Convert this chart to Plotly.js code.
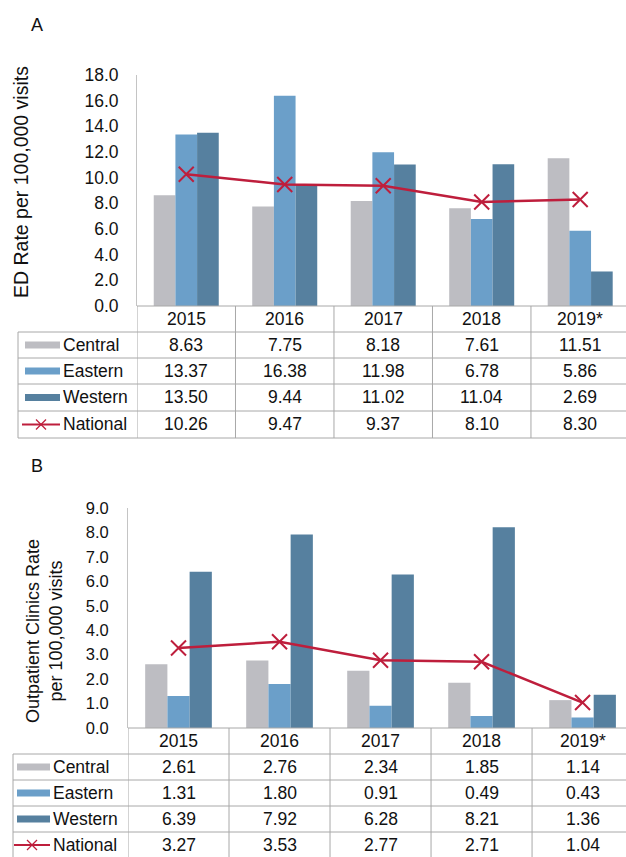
<!DOCTYPE html>
<html>
<head>
<meta charset="utf-8">
<script src="https://cdn.plot.ly/plotly-3.0.1.min.js"></script>
<style>html,body{margin:0;padding:0;background:#fff;}#chart{width:626px;height:857px;}</style>
</head>
<body>
<div id="chart"></div>
<script>
// ---- data ----
const years = ['2015', '2016', '2017', '2018', '2019*'];
const seriesNames = ['Central', 'Eastern', 'Western', 'National'];
const edCentral  = [8.63, 7.75, 8.18, 7.61, 11.51];
const edEastern  = [13.37, 16.38, 11.98, 6.78, 5.86];
const edWestern  = [13.50, 9.44, 11.02, 11.04, 2.69];
const edNational = [10.26, 9.47, 9.37, 8.10, 8.30];
const opCentral  = [2.61, 2.76, 2.34, 1.85, 1.14];
const opEastern  = [1.31, 1.80, 0.91, 0.49, 0.43];
const opWestern  = [6.39, 7.92, 6.28, 8.21, 1.36];
const opNational = [3.27, 3.53, 2.77, 2.71, 1.04];

// ---- styles ----
const W = 626, H = 857;
const px = x => x / W;
const py = y => 1 - y / H;
const cCentral = '#bdbdc2', cEastern = '#6b9fc9', cWestern = '#56809f', cNational = '#be1e3c';
const gridC = '#a8a8a8';
const FONT = 'Liberation Sans, Arial, sans-serif';
const txtC = '#111111';

const idx = years.map((_, i) => i);

function barTrace(vals, color, xa, ya, name) {
  return {type: 'bar', x: idx, y: vals, name: name, marker: {color: color}, xaxis: xa, yaxis: ya, hoverinfo: 'y'};
}
function lineTrace(vals, xa, ya) {
  return {type: 'scatter', mode: 'lines+markers', x: idx, y: vals, name: 'National', xaxis: xa, yaxis: ya,
    line: {color: cNational, width: 2.5},
    marker: {symbol: 'x-thin', size: 15, line: {color: cNational, width: 2}, color: cNational},
    cliponaxis: false};
}

const data = [
  barTrace(edCentral, cCentral, 'x', 'y', 'Central'),
  barTrace(edEastern, cEastern, 'x', 'y', 'Eastern'),
  barTrace(edWestern, cWestern, 'x', 'y', 'Western'),
  lineTrace(edNational, 'x', 'y'),
  barTrace(opCentral, cCentral, 'x2', 'y2', 'Central'),
  barTrace(opEastern, cEastern, 'x2', 'y2', 'Eastern'),
  barTrace(opWestern, cWestern, 'x2', 'y2', 'Western'),
  lineTrace(opNational, 'x2', 'y2')
];

const shapes = [];
const annotations = [];

function hline(x0, x1, y, xref) {
  shapes.push({type: 'line', xref: xref || 'paper', yref: 'paper', x0: x0, x1: x1, y0: py(y), y1: py(y), line: {color: gridC, width: 1}});
}
function vline(x, y0, y1, xref) {
  shapes.push({type: 'line', xref: xref || 'paper', yref: 'paper', x0: x, x1: x, y0: py(y0), y1: py(y1), line: {color: gridC, width: 1}});
}

// Build a table below a panel
function buildTable(cfg) {
  const {xa, axisX, leftX, rows, swX0, swX1, labelX, tableVals, fontSize} = cfg;
  hline(px(axisX), 1, rows[0]);
  for (let r = 1; r < rows.length; r++) {
    if (rows[r] <= H) hline(px(leftX), 1, rows[r]);
  }
  const bottom = Math.min(rows[rows.length - 1], H);
  vline(px(leftX), rows[1], bottom);
  for (let k = 0; k < years.length; k++) {
    vline(k - 0.5, rows[0], bottom, xa);
  }
  years.forEach((yr, i) => {
    annotations.push({xref: xa, yref: 'paper', x: i, y: py((rows[0] + rows[1]) / 2), text: yr, showarrow: false,
      xanchor: 'center', yanchor: 'middle', font: {family: FONT, size: fontSize, color: txtC}});
  });
  const colors = [cCentral, cEastern, cWestern, cNational];
  tableVals.forEach((vals, r) => {
    const yc = (rows[r + 1] + rows[r + 2]) / 2;
    annotations.push({xref: 'paper', yref: 'paper', x: px(labelX), y: py(yc), text: seriesNames[r], showarrow: false,
      xanchor: 'left', yanchor: 'middle', borderpad: 0, font: {family: FONT, size: fontSize, color: txtC}});
    vals.forEach((v, i) => {
      annotations.push({xref: xa, yref: 'paper', x: i, y: py(yc), text: v.toFixed(2), showarrow: false,
        xanchor: 'center', yanchor: 'middle', borderpad: 0, font: {family: FONT, size: fontSize, color: txtC}});
    });
    if (r < 3) {
      shapes.push({type: 'rect', xref: 'paper', yref: 'paper', x0: px(swX0), x1: px(swX1), y0: py(yc - 3.5), y1: py(yc + 3.5),
        fillcolor: colors[r], line: {width: 0}});
    } else {
      shapes.push({type: 'line', xref: 'paper', yref: 'paper', x0: px(swX0 - 3), x1: px(swX1), y0: py(yc), y1: py(yc),
        line: {color: cNational, width: 2}});
      const mx = (swX0 - 3 + swX1) / 2;
      shapes.push({type: 'line', xref: 'paper', yref: 'paper', x0: px(mx - 5), x1: px(mx + 5), y0: py(yc - 5), y1: py(yc + 5),
        line: {color: cNational, width: 1.2}});
      shapes.push({type: 'line', xref: 'paper', yref: 'paper', x0: px(mx - 5), x1: px(mx + 5), y0: py(yc + 5), y1: py(yc - 5),
        line: {color: cNational, width: 1.2}});
    }
  });
}

buildTable({xa: 'x', axisX: 137, leftX: 18, rows: [306, 332, 358, 384, 411, 438], swX0: 25, swX1: 60, labelX: 62,
  tableVals: [edCentral, edEastern, edWestern, edNational], fontSize: 17.5});
buildTable({xa: 'x2', axisX: 128, leftX: 13, rows: [728, 754, 780, 806, 832, 858], swX0: 17, swX1: 50, labelX: 52,
  tableVals: [opCentral, opEastern, opWestern, opNational], fontSize: 17.5});

annotations.push({xref: 'paper', yref: 'paper', x: px(37), y: py(25), text: 'A', showarrow: false,
  xanchor: 'center', yanchor: 'middle', font: {family: FONT, size: 18, color: txtC}});
annotations.push({xref: 'paper', yref: 'paper', x: px(37), y: py(466), text: 'B', showarrow: false,
  xanchor: 'center', yanchor: 'middle', font: {family: FONT, size: 18, color: txtC}});
annotations.push({xref: 'paper', yref: 'paper', x: px(21), y: py(182), text: 'ED Rate per 100,000 visits', showarrow: false,
  textangle: -90, xanchor: 'center', yanchor: 'middle', font: {family: FONT, size: 19.5, color: txtC}});
annotations.push({xref: 'paper', yref: 'paper', x: px(44), y: py(631), text: 'Outpatient Clinics Rate<br>per 100,000 visits', showarrow: false,
  textangle: -90, xanchor: 'center', yanchor: 'middle', font: {family: FONT, size: 18, color: txtC}});

const yCommon = {showline: true, linecolor: '#c4c4c4', linewidth: 1, showgrid: false, zeroline: false, ticks: '',
  tickformat: '.1f', tickfont: {family: FONT, size: 17.5, color: txtC}, ticklabelstandoff: 14, fixedrange: true};
const xCommon = {showticklabels: false, showline: false, showgrid: false, zeroline: false, ticks: '', fixedrange: true};

const layout = {
  width: W, height: H, margin: {l: 0, r: 0, t: 0, b: 0},
  paper_bgcolor: '#ffffff', plot_bgcolor: '#ffffff', showlegend: false,
  barmode: 'group', bargap: 0.34, bargroupgap: 0,
  font: {family: FONT},
  xaxis: Object.assign({}, xCommon, {domain: [px(137), 1], range: [-0.5, 4.465], anchor: 'y'}),
  yaxis: Object.assign({}, yCommon, {domain: [py(306), py(75)], range: [0, 18], dtick: 2, anchor: 'x'}),
  xaxis2: Object.assign({}, xCommon, {domain: [px(128), 1], range: [-0.5, 4.43], anchor: 'y2'}),
  yaxis2: Object.assign({}, yCommon, {domain: [py(728), py(508)], range: [0, 9], dtick: 1, anchor: 'x2',
    tickfont: {family: FONT, size: 16.5, color: txtC}, ticklabelstandoff: 15}),
  shapes: shapes,
  annotations: annotations
};

Plotly.newPlot('chart', data, layout, {staticPlot: true, displayModeBar: false});
</script>
</body>
</html>
